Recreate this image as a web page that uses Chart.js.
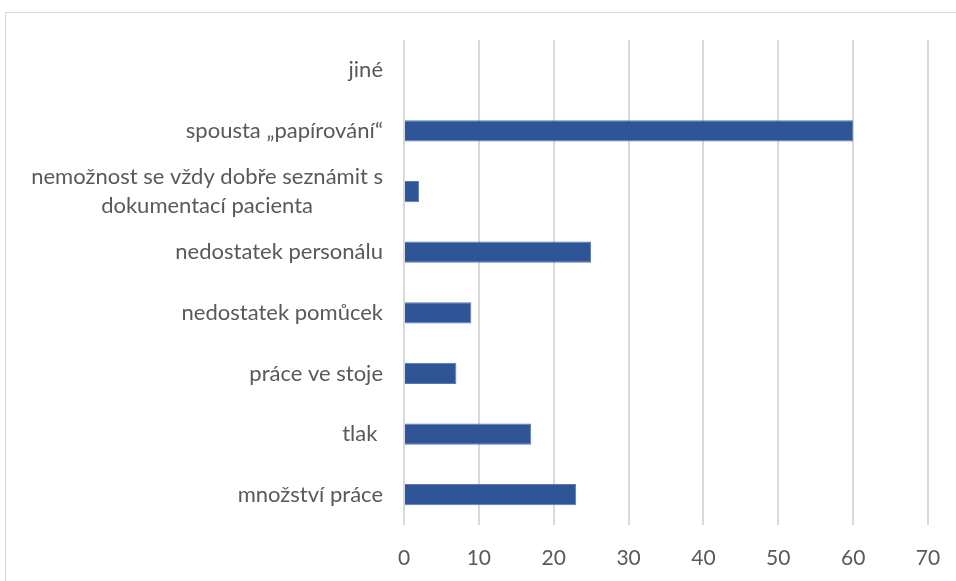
<!DOCTYPE html>
<html>
<head>
<meta charset="utf-8">
<script src="https://cdn.jsdelivr.net/npm/chart.js@4"></script>
<style>
  html, body { margin: 0; padding: 0; background: #fff; }
  #wrap { position: relative; width: 956px; height: 581px; overflow: hidden; }
  #frame { position: absolute; left: 5px; top: 12px; width: 1000px; height: 1000px; border: 1px solid #d9d9d9; }
  canvas { position: absolute; left: 0; top: 0; }
</style>
</head>
<body>
<div id="wrap">
  <div id="frame"></div>
  <canvas id="chart" width="956" height="581"></canvas>
</div>
<script>
const categories = [
  "jiné",
  "spousta „papírování“",
  ["nemožnost se vždy dobře seznámit s", "dokumentací pacienta"],
  "nedostatek personálu",
  "nedostatek pomůcek",
  "práce ve stoje",
  "tlak ",
  "množství práce"
];
const values = [0, 60, 2, 25, 9, 7, 17, 23];
const xTicks = [0, 10, 20, 30, 40, 50, 60, 70];

const labelFont = "22px Lato";
const labelColor = "#595959";

// draws the category labels: block right aligned, lines centred in the block
const yLabels = {
  id: "yLabels",
  afterDraw(chart) {
    const ctx = chart.ctx;
    const y = chart.scales.y;
    const right = 383;
    ctx.save();
    ctx.font = labelFont;
    ctx.fillStyle = labelColor;
    ctx.textBaseline = "middle";
    categories.forEach((lab, i) => {
      const lines = Array.isArray(lab) ? lab : [lab];
      const cy = y.getPixelForValue(i);
      const lh = 29;
      const w = Math.max(...lines.map(l => ctx.measureText(l).width));
      const cx = right - w / 2;
      lines.forEach((l, j) => {
        const ly = cy + (j - (lines.length - 1) / 2) * lh;
        if (lines.length === 1) {
          ctx.textAlign = "right";
          ctx.fillText(l, right, ly);
        } else {
          ctx.textAlign = "center";
          ctx.fillText(l, cx, ly);
        }
      });
    });
    ctx.restore();
  }
};

new Chart(document.getElementById("chart"), {
  type: "bar",
  data: {
    labels: categories,
    datasets: [{
      data: values,
      backgroundColor: "#2F5597",
      borderColor: "#5579b8",
      borderWidth: 1,
      barPercentage: 0.35,
      categoryPercentage: 1
    }]
  },
  plugins: [yLabels],
  options: {
    indexAxis: "y",
    responsive: false,
    animation: false,
    layout: { padding: { top: 40, right: 28, left: 0, bottom: 0 } },
    plugins: { legend: { display: false }, tooltip: { enabled: false } },
    scales: {
      x: {
        min: 0,
        max: 70,
        afterBuildTicks(scale) { scale.ticks = xTicks.map(v => ({ value: v })); },
        afterFit(scale) {
          scale.height = 56;
          scale.paddingLeft = 0;
          scale.paddingRight = 0;
        },
        grid: { color: "#d9d9d9", lineWidth: 2, drawTicks: false },
        border: { display: false },
        ticks: { color: labelColor, font: { family: "Lato", size: 21 }, padding: 21 }
      },
      y: {
        afterFit(scale) { scale.width = 404; },
        grid: { display: false },
        border: { display: false },
        ticks: { display: false }
      }
    }
  }
});
</script>
</body>
</html>
